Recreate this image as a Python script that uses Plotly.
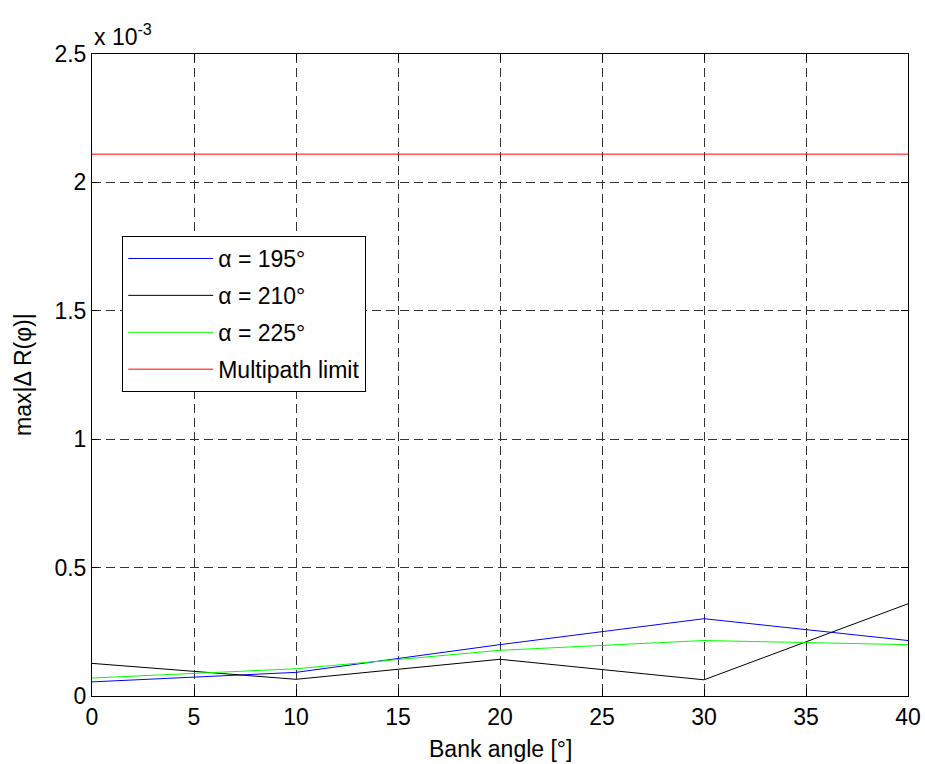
import plotly.graph_objects as go

bank_angle = [0, 10, 20, 30, 40]
alpha_195 = [0.055, 0.092, 0.200, 0.301, 0.216]
alpha_210 = [0.127, 0.065, 0.143, 0.063, 0.359]
alpha_225 = [0.070, 0.106, 0.178, 0.216, 0.200]
limit_x = [0, 40]
limit_y = [2.11, 2.11]
y_ticks = [0, 0.5, 1, 1.5, 2, 2.5]
x_ticks = [0, 5, 10, 15, 20, 25, 30, 35, 40]

FONT = "Liberation Sans, Arial, sans-serif"
FS = 23

fig = go.Figure()
series = [
    ("α = 195°", alpha_195, "rgb(0,0,255)"),
    ("α = 210°", alpha_210, "rgb(0,0,0)"),
    ("α = 225°", alpha_225, "rgb(0,255,0)"),
]
for i, (name, ys, col) in enumerate(series):
    fig.add_trace(go.Scatter(x=bank_angle, y=ys, mode="lines", name=name,
                             legendgroup=f"g{i}",
                             line=dict(color=col, width=1)))
fig.add_trace(go.Scatter(x=limit_x, y=limit_y, mode="lines", name="Multipath limit",
                         legendgroup="g3",
                         line=dict(color="rgb(255,0,0)", width=1)))

axis_common = dict(
    showline=True, linecolor="black", linewidth=1, mirror="ticks",
    ticks="inside", ticklen=7, tickcolor="black", tickwidth=1,
    showgrid=True, gridcolor="#333333", gridwidth=1, griddash="9px,5px",
    zeroline=False, automargin=False,
    tickfont=dict(family=FONT, size=FS, color="black"),
)

fig.update_xaxes(range=[0, 40], tickvals=x_ticks, **axis_common)
fig.update_yaxes(range=[0, 2.5], tickvals=y_ticks, **axis_common)

fig.update_layout(
    width=925, height=764,
    margin=dict(l=92, r=17, t=54, b=68),
    paper_bgcolor="white", plot_bgcolor="white",
    font=dict(family=FONT, size=FS, color="black"),
    showlegend=True,
    legend=dict(
        x=0.037, y=0.7165, xanchor="left", yanchor="top",
        bgcolor="white", bordercolor="black", borderwidth=1,
        font=dict(family=FONT, size=FS, color="black"),
        itemwidth=85, tracegroupgap=4,
    ),
    annotations=[
        dict(text="x 10<sup>-3</sup>", xref="paper", yref="paper", x=0, y=1,
             xanchor="left", yanchor="bottom", yshift=2, showarrow=False,
             font=dict(family=FONT, size=FS, color="black")),
        dict(text="Bank angle [°]", xref="paper", yref="paper", x=0.5, y=0,
             xanchor="center", yanchor="top", yshift=-38, showarrow=False,
             font=dict(family=FONT, size=FS, color="black")),
        dict(text="max|Δ R(φ)|", xref="paper", yref="paper", x=0, y=0.5,
             xanchor="right", yanchor="middle", xshift=-54, textangle=-90,
             showarrow=False,
             font=dict(family=FONT, size=FS, color="black")),
    ],
)

fig.write_html("out.html")
